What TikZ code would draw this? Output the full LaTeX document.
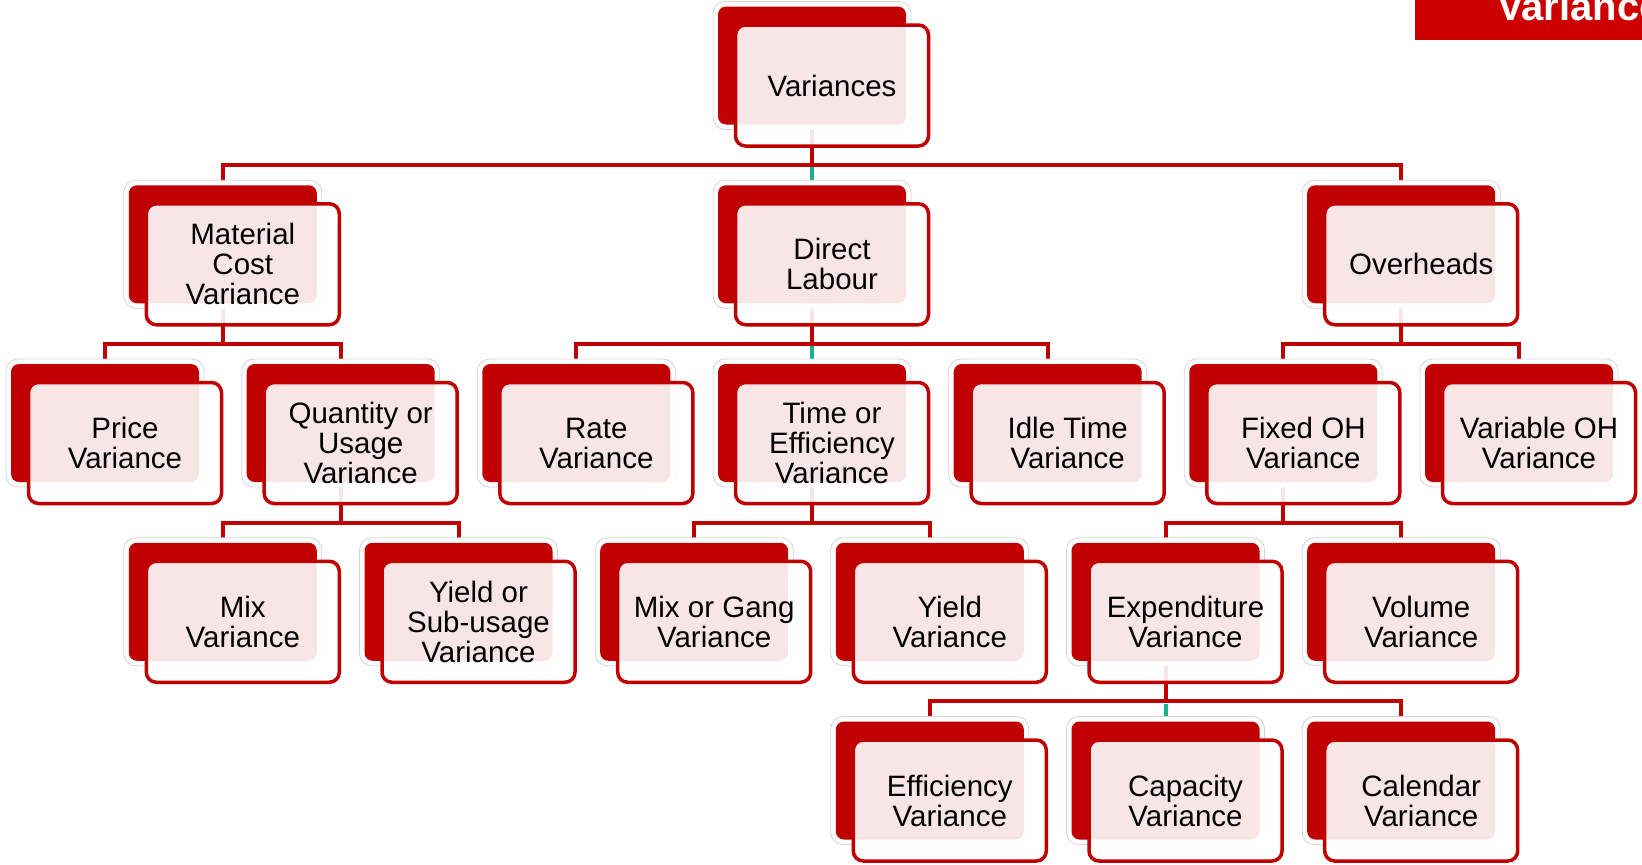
\documentclass[tikz,border=0pt]{standalone}
\usepackage{fontspec}
\setmainfont{Liberation Sans}
\usetikzlibrary{backgrounds}
\definecolor{vred}{RGB}{192,0,0}
\definecolor{vbanner}{RGB}{204,0,0}
\definecolor{vteal}{RGB}{26,178,140}
\definecolor{vhalo}{RGB}{212,212,212}
\newcommand\vnode[4]{%
  \node[halobox] (#1h) at (#2,#3) {};
  \node[backbox] (#1b) at (#2,#3) {};
  \node[frontbox] (#1) at ([shift={(20,20)}]#1b.center) {#4};
}
\newcommand\vlink[2]{%
  \draw[conn] (#1b.center) |- ([yshift=79.25pt]#2b.center) -- (#2b.center);
}
\newcommand\vmidlink[2]{%
  \draw[conn] (#1b.center) -- ([yshift=79.25pt]#2b.center);
  \draw[tconn] ([yshift=77pt]#2b.center) -- (#2b.center);
}
\begin{document}
\begin{tikzpicture}[x=1pt,y=-1pt,
  halobox/.style={rectangle, rounded corners=12pt, minimum width=198pt, minimum height=128pt, fill=white, draw=vhalo, line width=0.8pt, inner sep=0pt},
  backbox/.style={rectangle, rounded corners=8pt, minimum width=188pt, minimum height=118pt, fill=vred, inner sep=0pt},
  frontbox/.style={rectangle, rounded corners=10pt, minimum width=193pt, minimum height=121pt, draw=vred, line width=3.5pt, fill=white, fill opacity=0.9, text opacity=1, align=center, inner sep=0pt, font=\fontsize{29.5}{30}\selectfont},
  conn/.style={draw=vred, line width=4pt},
  tconn/.style={draw=vteal, line width=4pt}]
\useasboundingbox (0,0) rectangle (1642,865);
\clip (0,0) rectangle (1642,865);
% row 0
\vnode{var}{812}{65.5}{Variances}
% row 1
\vnode{mat}{222.8}{244.25}{Material\\Cost\\Variance}
\vnode{lab}{812}{244.25}{Direct\\Labour}
\vnode{ovh}{1401.2}{244.25}{Overheads}
% row 2
\vnode{pri}{105}{423}{Price\\Variance}
\vnode{qty}{340.7}{423}{Quantity or\\Usage\\Variance}
\vnode{rat}{576.3}{423}{Rate\\Variance}
\vnode{tim}{812}{423}{Time or\\Efficiency\\Variance}
\vnode{idl}{1047.7}{423}{Idle Time\\Variance}
\vnode{fix}{1283.3}{423}{Fixed OH\\Variance}
\vnode{vov}{1519}{423}{Variable OH\\Variance}
% row 3
\vnode{mix}{222.8}{601.75}{Mix\\Variance}
\vnode{yis}{458.5}{601.75}{Yield or\\Sub-usage\\Variance}
\vnode{mig}{694.2}{601.75}{Mix or Gang\\Variance}
\vnode{yld}{929.8}{601.75}{Yield\\Variance}
\vnode{exp}{1165.5}{601.75}{Expenditure\\Variance}
\vnode{vol}{1401.2}{601.75}{Volume\\Variance}
% row 4
\vnode{eff}{929.8}{780.5}{Efficiency\\Variance}
\vnode{cap}{1165.5}{780.5}{Capacity\\Variance}
\vnode{cal}{1401.2}{780.5}{Calendar\\Variance}
% banner
\fill[vbanner] (1415,0) rectangle (1650,40);
\node[anchor=base west, text=white, inner sep=0pt, font=\bfseries\fontsize{40}{40}\selectfont] (ban) at (1497,20) {Variances};
\begin{pgfonlayer}{background}
  \vlink{var}{mat}
  \vlink{var}{ovh}
  \vlink{mat}{pri}
  \vlink{mat}{qty}
  \vlink{lab}{rat}
  \vlink{lab}{idl}
  \vlink{ovh}{fix}
  \vlink{ovh}{vov}
  \vlink{qty}{mix}
  \vlink{qty}{yis}
  \vlink{tim}{mig}
  \vlink{tim}{yld}
  \vlink{fix}{exp}
  \vlink{fix}{vol}
  \vlink{exp}{eff}
  \vlink{exp}{cal}
  \vmidlink{var}{lab}
  \vmidlink{lab}{tim}
  \vmidlink{exp}{cap}
\end{pgfonlayer}
\end{tikzpicture}
\end{document}
